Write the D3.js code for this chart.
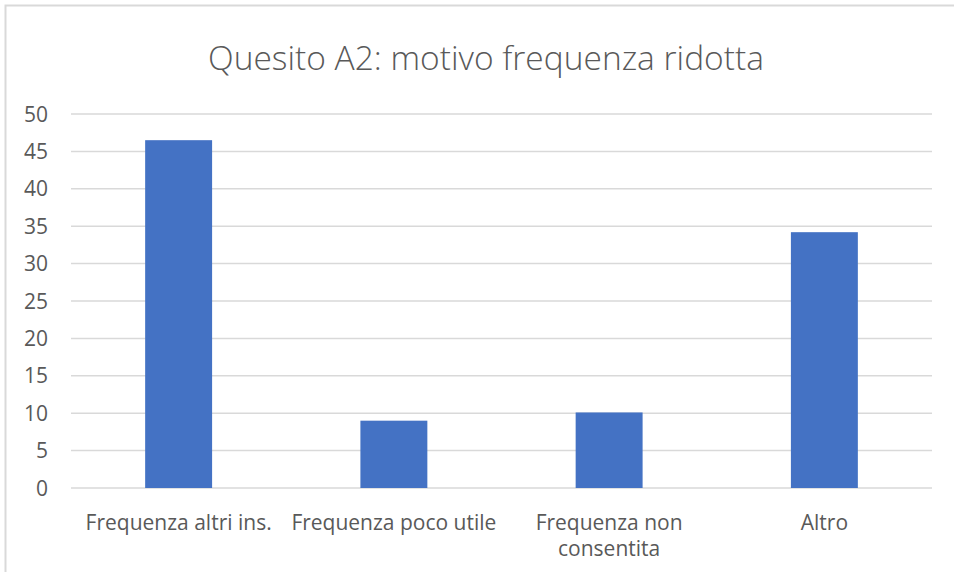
<!DOCTYPE html>
<html>
<head>
<meta charset="utf-8">
<title>Quesito A2</title>
<script src="https://d3js.org/d3.v7.min.js"></script>
<style>
body { margin: 0; background: #fff; }
svg text { font-family: "Open Sans", sans-serif; fill: #595959; }
</style>
</head>
<body>
<div id="chart"></div>
<script>
// data
var categories = ["Frequenza altri ins.", "Frequenza poco utile", "Frequenza non consentita", "Altro"];
var labelLines = [["Frequenza altri ins."], ["Frequenza poco utile"], ["Frequenza non", "consentita"], ["Altro"]];
var values = [46.5, 9, 10.1, 34.2];
var yTicks = [0, 5, 10, 15, 20, 25, 30, 35, 40, 45, 50];
var title = "Quesito A2: motivo frequenza ridotta";

var W = 954, H = 572;
var margin = {top: 114, right: 22, bottom: 84, left: 71};

var svg = d3.select("#chart").append("svg")
  .attr("width", W)
  .attr("height", H);

// chart frame (runs off right and bottom of the crop)
svg.append("rect")
  .attr("x", 5.5).attr("y", 5.5)
  .attr("width", W + 10).attr("height", H + 10)
  .attr("fill", "none")
  .attr("stroke", "#d9d9d9")
  .attr("stroke-width", 2);

svg.append("text")
  .attr("x", 486)
  .attr("y", 70)
  .attr("text-anchor", "middle")
  .style("font-size", "33.5px")
  .style("font-weight", 300)
  .text(title);

var x = d3.scaleBand()
  .domain(categories)
  .range([margin.left, W - margin.right])
  .paddingInner(0.689)
  .paddingOuter(0.3445);

var y = d3.scaleLinear()
  .domain([0, 50])
  .range([H - margin.bottom, margin.top]);

// gridlines
svg.append("g")
  .selectAll("line")
  .data(yTicks)
  .enter()
  .append("line")
    .attr("x1", margin.left)
    .attr("x2", W - margin.right)
    .attr("y1", function(d) { return y(d); })
    .attr("y2", function(d) { return y(d); })
    .attr("stroke", "#d9d9d9")
    .attr("stroke-width", 1.5);

// y tick labels
svg.append("g")
  .selectAll("text")
  .data(yTicks)
  .enter()
  .append("text")
    .attr("x", 48)
    .attr("y", function(d) { return y(d); })
    .attr("dy", "0.36em")
    .attr("text-anchor", "end")
    .style("font-size", "21px")
    .text(function(d) { return d; });

// bars
svg.append("g")
  .selectAll("rect")
  .data(values)
  .enter()
  .append("rect")
    .attr("x", function(d, i) { return x(categories[i]); })
    .attr("y", function(d) { return y(d); })
    .attr("width", x.bandwidth())
    .attr("height", function(d) { return y(0) - y(d); })
    .attr("fill", "#4472c4");

// category labels
var cat = svg.append("g")
  .selectAll("text")
  .data(labelLines)
  .enter()
  .append("text")
    .attr("text-anchor", "middle")
    .style("font-size", "21px")
    .attr("transform", function(d, i) {
      return "translate(" + (x(categories[i]) + x.bandwidth() / 2) + "," + 530 + ")";
    });

cat.selectAll("tspan")
  .data(function(d) { return d; })
  .enter()
  .append("tspan")
    .attr("x", 0)
    .attr("y", function(d, i) { return i * 26; })
    .text(function(d) { return d; });
</script>
</body>
</html>
